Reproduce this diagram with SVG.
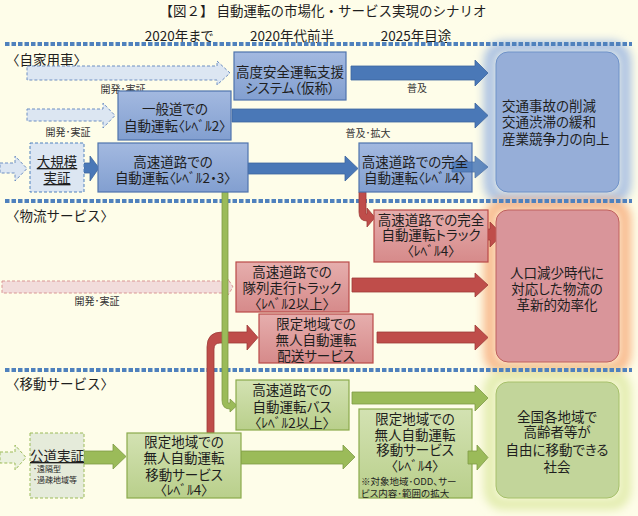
<svg xmlns="http://www.w3.org/2000/svg" width="638" height="516" viewBox="0 0 638 516">
<defs>
<linearGradient id="gb" x1="0" y1="0" x2="0" y2="1"><stop offset="0" stop-color="#A3B9E0"/><stop offset="1" stop-color="#829FD0"/></linearGradient>
<linearGradient id="gr" x1="0" y1="0" x2="0" y2="1"><stop offset="0" stop-color="#E6AEAD"/><stop offset="1" stop-color="#D68A8A"/></linearGradient>
<linearGradient id="gg" x1="0" y1="0" x2="0" y2="1"><stop offset="0" stop-color="#D3E2B2"/><stop offset="1" stop-color="#B9CF8B"/></linearGradient>
<filter id="blur" x="-20%" y="-20%" width="140%" height="140%"><feGaussianBlur stdDeviation="5"/></filter>
<style>
text{font-family:"Noto Sans CJK JP","Noto Sans CJK SC",sans-serif;fill:#1e1e1e;font-feature-settings:"palt";}
.np{font-feature-settings:normal;}
.t{font-size:13.5px;text-anchor:middle;dominant-baseline:central;}
.tl{font-size:13.5px;dominant-baseline:central;}
.s{font-size:10px;text-anchor:middle;dominant-baseline:central;fill:#333;}
.xs{font-size:8px;dominant-baseline:central;}
.ns{font-size:9.5px;dominant-baseline:central;}
.bb{fill:url(#gb);stroke:#4F74AD;stroke-width:1.2;}
.rb{fill:url(#gr);stroke:#B94A48;stroke-width:1.2;}
.gbx{fill:url(#gg);stroke:#8AAB4C;stroke-width:1.2;}
.ba{fill:#4A78B7;stroke:#3C659E;stroke-width:0.8;}
.ra{fill:#BF4D4A;stroke:#9E3B39;stroke-width:0.8;}
.ga{fill:#9BBB59;stroke:#7E9B45;stroke-width:0.8;}
.dba{fill:#DCE6F2;stroke:#6C8EC2;stroke-width:1;stroke-dasharray:3 2;}
.dra{fill:#F2DCDB;stroke:#D99694;stroke-width:1;stroke-dasharray:3 2;}
.dga{fill:#EBF1DE;stroke:#9BBB59;stroke-width:1;stroke-dasharray:3 2;}
.sep{stroke:#4F81BD;stroke-width:4;stroke-dasharray:4.5 2;fill:none;}
</style>
</defs>
<rect width="638" height="516" fill="#FEFDE9"/>

<g id="glows">
<rect x="490" y="47" width="135" height="151" rx="14" fill="none" stroke="#A9C0E2" stroke-width="12" filter="url(#blur)"/>
<rect x="490" y="205" width="135" height="163" rx="14" fill="none" stroke="#F8B88A" stroke-width="12" filter="url(#blur)"/>
<rect x="490" y="376" width="135" height="128" rx="14" fill="none" stroke="#E2ECAE" stroke-width="12" filter="url(#blur)"/>
</g>

<text x="323" y="10" class="t np">【図２】 自動運転の市場化・サービス実現のシナリオ</text>
<text x="179" y="35" class="t">2020年まで</text>
<text x="292" y="35" class="t">2020年代前半</text>
<text x="416" y="35" class="t">2025年目途</text>

<g id="separators">
<line x1="5" y1="44" x2="632" y2="44" class="sep"/>
<line x1="5" y1="201" x2="632" y2="201" class="sep"/>
<line x1="5" y1="370" x2="632" y2="370" class="sep"/>
</g>

<text x="6" y="59" class="tl np">〈自家用車〉</text>
<text x="6" y="215" class="tl np">〈物流サービス〉</text>
<text x="6" y="383" class="tl np">〈移動サービス〉</text>

<g id="connectors">
<polygon class="dba" points="27,66 217,66 217,61 230,73 217,85 217,80 27,80"/>
<polygon class="dba" points="27,109 103,109 103,103 115,115.5 103,128 103,121 27,121"/>
<polygon class="dba" points="0,163 15,163 15,156 27,168.5 15,181 15,173 0,173"/>
<polygon class="dra" points="2,281 228,281 228,279 233,287 228,295 228,293 2,293"/>
<polygon class="dga" points="0,452 15,452 15,445 26,457.5 15,470 15,463 0,463"/>
<text x="123" y="88" class="s">開発･実証</text>
<text x="68" y="131" class="s">開発･実証</text>
<text x="97" y="300" class="s">開発･実証</text>

<polygon class="ba" points="351,66 475,66 475,60 488,73 475,86 475,80 351,80"/>
<polygon class="ba" points="232,109 475,109 475,103 488,115.5 475,128 475,122 232,122"/>
<polygon class="ba" points="84,163 90,163 90,156 99,168 90,181 90,173 84,173"/>
<polygon class="ba" points="248,163 345,163 345,156 358,168.5 345,181 345,174 248,174"/>
<text x="417" y="87" class="s">普及</text>
<text x="368" y="132" class="s">普及･拡大</text>

<path class="ra" d="M359,192 V212 Q359,221 367,221 V227 L375,217.5 L367,208 V214 L366,214 V192 Z"/>
<polygon class="ra" points="482,229 490,229 490,222 502,234.5 490,247 490,240 482,240"/>
<polygon class="ra" points="352,278 475,278 475,273 488,285 475,297 475,292 352,292"/>
<polygon class="ra" points="377,332 475,332 475,325 488,337.5 475,350 475,343 377,343"/>
<path class="ra" d="M207,433 V347 Q207,332 222,332 H247 V325 L258,337.5 L247,350 V343 H220 Q214,343 214,349 V433 Z"/>

<path class="ga" d="M222,192 V400 Q222,409 230,409 V412 L237,405.5 L230,399 V403 L228,403 V192 Z"/>
<polygon class="ga" points="84,451 113,451 113,444 126,456.5 113,469 113,464 84,464"/>
<polygon class="ga" points="241,451 343,451 343,445 355,457 343,469 343,464 241,464"/>
<polygon class="ga" points="352,392 475,392 475,385 488,398 475,411 475,404 352,404"/>
</g>

<g id="n-adas">
<rect x="234" y="52" width="112" height="48" class="bb"/>
<text x="290" y="71" class="t">高度安全運転支援</text>
<text x="290" y="87" class="t">システム（仮称）</text>
</g>
<g id="n-ippan">
<rect x="118" y="91" width="113" height="49" class="bb"/>
<text x="175" y="108" class="t">一般道での</text>
<text x="175" y="125" class="t">自動運転〈ﾚﾍﾞﾙ2〉</text>
</g>
<g id="n-daikibo">
<rect x="30" y="143" width="54" height="49" fill="#DCE6F2" stroke="#4F81BD" stroke-width="1" stroke-dasharray="3 2"/>
<text x="57" y="161" class="t" text-decoration="underline">大規模</text>
<text x="57" y="177" class="t" text-decoration="underline">実証</text>
</g>
<g id="n-kosoku23">
<rect x="98" y="143" width="150" height="49" class="bb"/>
<text x="173" y="161" class="t">高速道路での</text>
<text x="173" y="177" class="t">自動運転〈ﾚﾍﾞﾙ2・3〉</text>
</g>
<g id="n-kosoku4">
<rect x="359" y="143" width="113" height="49" class="bb"/>
<polygon class="ba" points="452,162 475,162 475,156 488,167 475,178 475,172 452,172" opacity="0.85"/>
<text x="415" y="161" class="t">高速道路での完全</text>
<text x="415" y="177" class="t">自動運転〈ﾚﾍﾞﾙ4〉</text>
</g>
<g id="g-blue">
<rect x="496" y="52" width="123" height="140" rx="12" fill="#96AED8" stroke="#6E92C8" stroke-width="1"/>
<text x="502" y="105" class="tl">交通事故の削減</text>
<text x="502" y="121" class="tl">交通渋滞の緩和</text>
<text x="502" y="138" class="tl">産業競争力の向上</text>
</g>

<g id="n-truck4">
<rect x="374" y="210" width="114" height="52" class="rb"/>
<text x="431" y="219" class="t">高速道路での完全</text>
<text x="431" y="234" class="t">自動運転トラック</text>
<text x="431" y="250" class="t">〈ﾚﾍﾞﾙ4〉</text>
</g>
<g id="n-tairetsu">
<rect x="236" y="262" width="113" height="50" class="rb"/>
<text x="292" y="271" class="t">高速道路での</text>
<text x="292" y="287" class="t">隊列走行トラック</text>
<text x="292" y="303" class="t">〈ﾚﾍﾞﾙ2以上〉</text>
</g>
<g id="n-haiso">
<rect x="259" y="314" width="114" height="49" class="rb"/>
<text x="316" y="323" class="t">限定地域での</text>
<text x="316" y="339" class="t">無人自動運転</text>
<text x="316" y="355" class="t">配送サービス</text>
</g>
<g id="g-red">
<rect x="496" y="210" width="123" height="152" rx="12" fill="#D9959A" stroke="#C0605C" stroke-width="1"/>
<text x="557" y="272" class="t">人口減少時代に</text>
<text x="557" y="288" class="t">対応した物流の</text>
<text x="557" y="304" class="t">革新的効率化</text>
</g>

<g id="n-bus">
<rect x="236" y="380" width="113" height="50" class="gbx"/>
<text x="292" y="389" class="t">高速道路での</text>
<text x="292" y="406" class="t">自動運転バス</text>
<text x="292" y="422" class="t">〈ﾚﾍﾞﾙ2以上〉</text>
</g>
<g id="n-kodo">
<rect x="30" y="433" width="54" height="65" fill="#E5EBDA" stroke="#9BBB59" stroke-width="1" stroke-dasharray="3 2"/>
<text x="57" y="455" class="t" text-decoration="underline">公道実証</text>
<text x="33" y="468" class="xs">･遠隔型</text>
<text x="33" y="479" class="xs">･過疎地域等</text>
</g>
<g id="n-ido1">
<rect x="127" y="433" width="114" height="65" class="gbx"/>
<text x="184" y="441" class="t">限定地域での</text>
<text x="184" y="457" class="t">無人自動運転</text>
<text x="184" y="474" class="t">移動サービス</text>
<text x="184" y="489" class="t">〈ﾚﾍﾞﾙ4〉</text>
</g>
<g id="n-ido2">
<rect x="359" y="409" width="113" height="89" class="gbx"/>
<polygon class="ga" points="468,451 477,451 477,445 488,457.5 477,470 477,464 468,464"/>
<text x="415" y="418" class="t">限定地域での</text>
<text x="415" y="434" class="t">無人自動運転</text>
<text x="415" y="449" class="t">移動サービス</text>
<text x="415" y="465" class="t">〈ﾚﾍﾞﾙ4〉</text>
<text x="361" y="481" class="ns">※対象地域･ODD、サー</text>
<text x="361" y="493" class="ns">ビス内容･範囲の拡大</text>
</g>
<g id="g-green">
<rect x="496" y="382" width="123" height="116" rx="12" fill="#C2D59A" stroke="#A6C06A" stroke-width="1"/>
<text x="557" y="416" class="t">全国各地域で</text>
<text x="557" y="431" class="t">高齢者等が</text>
<text x="557" y="449" class="t">自由に移動できる</text>
<text x="557" y="466" class="t">社会</text>
</g>
</svg>
